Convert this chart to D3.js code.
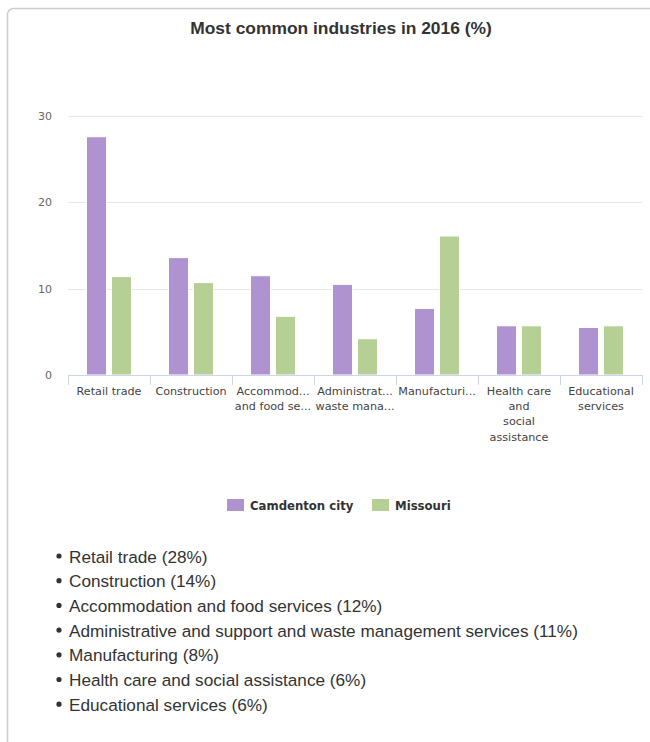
<!DOCTYPE html>
<html>
<head>
<meta charset="utf-8">
<script src="https://cdn.jsdelivr.net/npm/d3@7"></script>
<style>
  html, body { margin: 0; padding: 0; background: #fff; }
  svg { display: block; }
</style>
</head>
<body>
<svg id="chart" width="650" height="742"></svg>
<script>
// ---- data ----
const categories = [
  "Retail trade",
  "Construction",
  "Accommodation and food services",
  "Administrative and support and waste management services",
  "Manufacturing",
  "Health care and social assistance",
  "Educational services"
];
const tickLabels = [
  ["Retail trade"],
  ["Construction"],
  ["Accommod...", "and food se..."],
  ["Administrat...", "waste mana..."],
  ["Manufacturi..."],
  ["Health care", "and", "social", "assistance"],
  ["Educational", "services"]
];
const seriesNames = ["Camdenton city", "Missouri"];
const camdentonValues = [27.6, 13.6, 11.5, 10.5, 7.7, 5.7, 5.5];
const missouriValues = [11.4, 10.7, 6.8, 4.2, 16.1, 5.7, 5.7];
const yTicks = [0, 10, 20, 30];
const listPercents = [28, 14, 12, 11, 8, 6, 6];
const colors = ["#af93d0", "#b6cf94"];

// ---- drawing ----
const svg = d3.select("#chart");
const font = "'DejaVu Sans', Verdana, sans-serif";
const arial = "'Liberation Sans', Arial, sans-serif";

// container frame
svg.append("rect")
  .attr("x", 7.5).attr("y", 8.5)
  .attr("width", 700).attr("height", 800)
  .attr("rx", 6)
  .attr("fill", "#fff")
  .attr("stroke", "#cccccc")
  .attr("stroke-width", 1.5);

// title
svg.append("text")
  .attr("x", 341).attr("y", 34)
  .attr("text-anchor", "middle")
  .attr("font-family", arial)
  .attr("font-size", 17.4)
  .attr("font-weight", "bold")
  .attr("fill", "#333")
  .text("Most common industries in 2016 (%)");

const x = d3.scaleBand().domain(categories).range([68, 642]).paddingInner(0).paddingOuter(0);
const xs = d3.scaleBand().domain(seriesNames).range([18.5, 63.5]).paddingInner(0.2).paddingOuter(0);
const y = d3.scaleLinear().domain([0, 30]).range([375, 116]);

// gridlines
svg.append("g").selectAll("line").data(yTicks.filter(d => d > 0)).join("line")
  .attr("x1", 68).attr("x2", 642)
  .attr("y1", d => Math.round(y(d)) + 0.5).attr("y2", d => Math.round(y(d)) + 0.5)
  .attr("stroke", "#e6e6e6").attr("stroke-width", 1);

// y labels
svg.append("g").selectAll("text").data(yTicks).join("text")
  .attr("x", 52).attr("y", d => y(d) + 4)
  .attr("text-anchor", "end")
  .attr("font-family", font).attr("font-size", 11)
  .attr("fill", "#666")
  .text(d => d);

// bars
const series = [camdentonValues, missouriValues];
series.forEach((vals, si) => {
  svg.append("g").selectAll("rect").data(vals).join("rect")
    .attr("x", (d, i) => x(categories[i]) + xs(seriesNames[si]))
    .attr("y", d => y(d))
    .attr("width", xs.bandwidth())
    .attr("height", d => y(0) - y(d))
    .attr("fill", colors[si])
    .attr("stroke", "#fff")
    .attr("stroke-width", 1);
});

// x axis line and ticks
svg.append("line")
  .attr("x1", 68).attr("x2", 642)
  .attr("y1", 375.5).attr("y2", 375.5)
  .attr("stroke", "#ccd6eb");
const tickPos = categories.map(c => x(c)).concat([x(categories[categories.length - 1]) + x.bandwidth()]);
svg.append("g").selectAll("line").data(tickPos).join("line")
  .attr("x1", d => Math.round(d) + 0.5).attr("x2", d => Math.round(d) + 0.5)
  .attr("y1", 375).attr("y2", 385)
  .attr("stroke", "#ccd6eb");

// x labels
const xl = svg.append("g").selectAll("text").data(categories).join("text")
  .attr("x", d => x(d) + x.bandwidth() / 2)
  .attr("y", 395)
  .attr("text-anchor", "middle")
  .attr("font-family", font).attr("font-size", 11.2)
  .attr("fill", "#444");
xl.each(function(d, i) {
  d3.select(this).selectAll("tspan").data(tickLabels[i]).join("tspan")
    .attr("x", x(d) + x.bandwidth() / 2)
    .attr("dy", (t, j) => j === 0 ? 0 : 15.2)
    .text(t => t);
});

// legend
const legendItems = [
  { name: seriesNames[0], color: colors[0], x: 227 },
  { name: seriesNames[1], color: colors[1], x: 372 }
];
const lg = svg.append("g").selectAll("g").data(legendItems).join("g")
  .attr("transform", d => `translate(${d.x},499)`);
lg.append("rect").attr("width", 17).attr("height", 12).attr("fill", d => d.color);
lg.append("text")
  .attr("x", 23).attr("y", 11)
  .attr("font-family", font).attr("font-size", 11.7).attr("font-weight", "bold")
  .attr("fill", "#333")
  .text(d => d.name);

// list
const list = svg.append("g").selectAll("g").data(categories).join("g")
  .attr("transform", (d, i) => `translate(0,${556 + i * 24.7})`);
list.append("circle").attr("cx", 59).attr("cy", 0).attr("r", 2.6).attr("fill", "#333");
list.append("text")
  .attr("x", 69).attr("y", 6.5)
  .attr("font-family", arial).attr("font-size", 17.2)
  .attr("fill", "#333")
  .text((d, i) => `${d} (${listPercents[i]}%)`);
</script>
</body>
</html>
